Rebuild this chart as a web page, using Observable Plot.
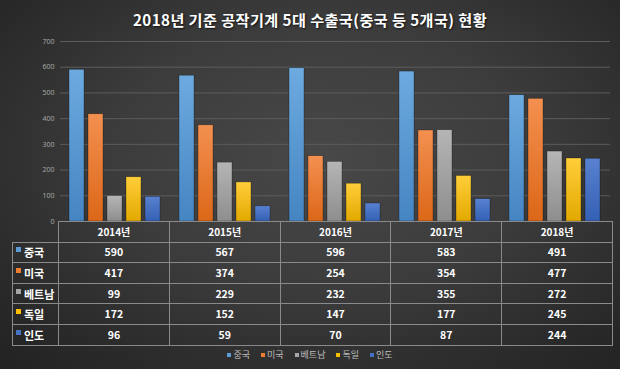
<!DOCTYPE html>
<html><head><meta charset="utf-8">
<script src="https://cdn.jsdelivr.net/npm/d3@7"></script>
<script src="https://cdn.jsdelivr.net/npm/@observablehq/plot@0.6"></script>
<style>
html,body{margin:0;padding:0;}
body{width:620px;height:369px;overflow:hidden;}
#wrap{position:relative;width:620px;height:369px;overflow:hidden;
 background:radial-gradient(ellipse 75% 80% at 52% 42%, #484848 0%, #3c3c3c 45%, #2a2a2a 80%, #222 100%);
 font-family:"Noto Sans CJK KR","Noto Sans",sans-serif;}
#title{position:absolute;top:8px;left:0;width:620px;text-align:center;color:#fff;font-weight:bold;font-size:15.2px;letter-spacing:0.4px;text-shadow:1px 1px 2px rgba(0,0,0,0.7);}
#chart{position:absolute;top:0;left:0;}
#tbl{position:absolute;top:221px;left:12px;border-collapse:collapse;table-layout:fixed;color:#fff;font-weight:bold;}
#tbl td{border:1px solid #8a8a8a;padding:0;text-align:center;font-size:10.5px;height:19.6px;line-height:12px;white-space:nowrap;overflow:hidden;}
#tbl td.lab{text-align:left;padding-left:3px;font-size:11px;}
#tbl td.corner{border-top:none;border-left:none;}
.sq{display:inline-block;width:5px;height:5px;margin-right:3px;vertical-align:5px;}
#legend{position:absolute;top:348px;left:0;width:620px;text-align:center;color:#bdbdbd;font-size:9px;}
#legend span.it{margin:0 5.5px;}
#legend .sq{width:4px;height:4px;margin-right:2px;vertical-align:1px;}
</style></head>
<body><div id="wrap">
<div id="title"></div>
<div id="chart"></div>
<table id="tbl"></table>
<div id="legend"></div>
</div>
<script>
const titleText = "2018년 기준 공작기계 5대 수출국(중국 등 5개국) 현황";
const years = ["2014년","2015년","2016년","2017년","2018년"];
const series = ["중국","미국","베트남","독일","인도"];
const china   = [590,567,596,583,491];
const usa     = [417,374,254,354,477];
const vietnam = [99,229,232,355,272];
const germany = [172,152,147,177,245];
const india   = [96,59,70,87,244];
const yTicks = [0,100,200,300,400,500,600,700];
const baseColors = ["#5b9bd5","#ed7d31","#a5a5a5","#ffc000","#4472c4"];
const topColors  = ["#6daae0","#f39050","#b5b5b5","#ffce3a","#5882d0"];
const botColors  = ["#4585c2","#dc6718","#8e8e8e","#e3a900","#3460b4"];

const values = [china, usa, vietnam, germany, india];
const rows = [];
years.forEach((yr,i)=>series.forEach((s,j)=>rows.push({year:yr, series:s, value:values[j][i]})));

document.getElementById("title").textContent = titleText;

const chart = Plot.plot({
  width:620, height:230,
  marginTop:41, marginBottom:9, marginLeft:58, marginRight:8,
  style:{background:"transparent", color:"#a6a6a6", fontFamily:"'Noto Sans','DejaVu Sans',sans-serif"},
  fx:{domain:years, padding:0, axis:null},
  x:{domain:series, paddingInner:0.19, paddingOuter:0.4, axis:null},
  y:{domain:[0,700], axis:null},
  color:{domain:series, range:series.map((s,i)=>`url(#grad${i})`)},
  marks:[
    Plot.ruleY(yTicks.slice(1), {stroke:"#5c5c5c", strokeWidth:1}),
    Plot.barY(rows, {fx:"year", x:"series", y:"value", fill:"series", stroke:"rgba(0,0,0,0.45)", strokeWidth:0.6}),
    Plot.axisY({ticks:yTicks, tickSize:0, tickPadding:6, fontSize:7, label:null, fill:"#a6a6a6"})
  ]
});
const svg = chart.tagName.toLowerCase()==="svg" ? chart : chart.querySelector("svg");
let defs = '<defs>';
series.forEach((s,i)=>{
  defs += `<linearGradient id="grad${i}" x1="0" y1="0" x2="0" y2="1"><stop offset="0" stop-color="${topColors[i]}"/><stop offset="1" stop-color="${botColors[i]}"/></linearGradient>`;
});
defs += '</defs>';
svg.insertAdjacentHTML("afterbegin", defs);
document.getElementById("chart").appendChild(chart);

// table
const tbl = document.getElementById("tbl");
const colg = document.createElement("colgroup");
const c0 = document.createElement("col"); c0.style.width="46px"; colg.appendChild(c0);
years.forEach(()=>{const c=document.createElement("col"); c.style.width="110.8px"; colg.appendChild(c);});
tbl.appendChild(colg);
const hr = document.createElement("tr");
const corner = document.createElement("td"); corner.className="corner"; hr.appendChild(corner);
years.forEach(y=>{const td=document.createElement("td"); td.textContent=y; td.style.fontSize="10px"; hr.appendChild(td);});
tbl.appendChild(hr);
series.forEach((s,j)=>{
  const tr=document.createElement("tr");
  const lab=document.createElement("td"); lab.className="lab";
  lab.innerHTML=`<span class="sq" style="background:${baseColors[j]}"></span>${s}`;
  tr.appendChild(lab);
  values[j].forEach(v=>{const td=document.createElement("td"); td.textContent=v; tr.appendChild(td);});
  tbl.appendChild(tr);
});

// legend
const lg = document.getElementById("legend");
series.forEach((s,j)=>{
  lg.insertAdjacentHTML("beforeend", `<span class="it"><span class="sq" style="background:${baseColors[j]}"></span>${s}</span>`);
});
</script>
</body></html>
